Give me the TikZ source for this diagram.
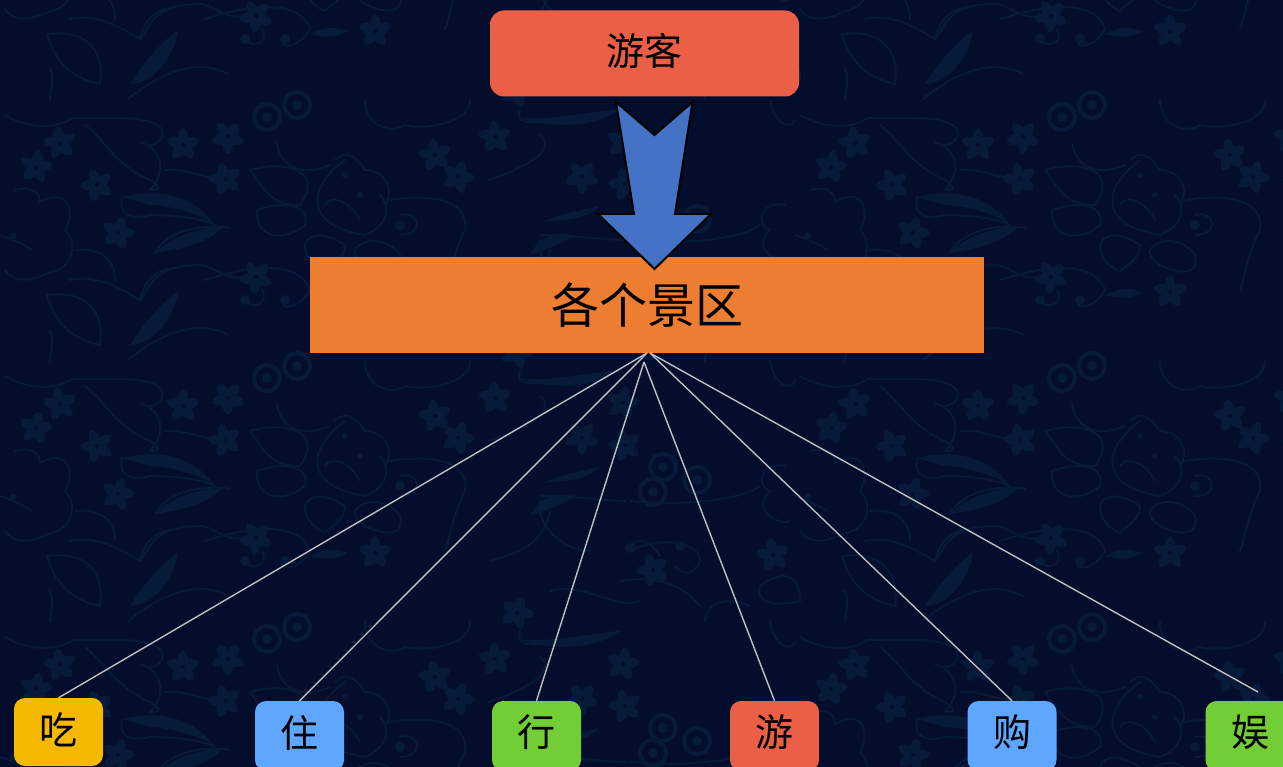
\documentclass[tikz,border=0pt]{standalone}
\usepackage{fontspec}
\setmainfont{Noto Sans CJK SC}
\definecolor{bgc}{HTML}{040E2C}
\definecolor{fl}{HTML}{071A39}
\definecolor{redc}{HTML}{EB5F47}
\definecolor{orc}{HTML}{ED7D31}
\definecolor{yelc}{HTML}{F6B900}
\definecolor{bluc}{HTML}{5EA6FF}
\definecolor{grnc}{HTML}{72CE34}
\definecolor{arrc}{HTML}{4472C4}
\definecolor{linec}{HTML}{BEC0C4}
\newcommand{\fleur}[3]{\path (#1,#2) pic[rotate=#3] {floret};}
\tikzset{
  x=1pt,y=-1pt,
  small/.style={draw=none,rounded corners=11pt,minimum width=89pt,minimum height=70pt,inner sep=0pt,text=black,font=\fontsize{38}{38}\selectfont},
  link/.style={draw=linec,line width=1.4pt},
  petal/.style={fill=fl,draw=none},
  vine/.style={draw=fl,line width=2pt,fill=none,line cap=round},
  floret/.pic={
    \foreach \a in {0,72,144,216,288}
      \fill[petal,rotate=\a] (0,0) .. controls (-8,-5) and (-6,-14) .. (0,-17) .. controls (6,-14) and (8,-5) .. (0,0);
    \fill[bgc] (0,0) circle (2.2);
  },
  ringed/.pic={
    \draw[draw=fl,line width=4pt] (0,0) circle (13);
    \fill[fl] (0,0) circle (5);
  },
  motif/.pic={
    \fleur{60}{143}{10} \fleur{36}{167}{-10} \fleur{97}{185}{20} \fleur{183}{145}{0}
    \fleur{228}{137}{35} \fleur{225}{179}{15} \fleur{118}{233}{-15} \fleur{256}{277}{30}
    \fleur{435}{155}{10} \fleur{458}{177}{-20} \fleur{375}{292}{0}
    \fleur{495}{137}{5} \fleur{582}{177}{36} \fleur{623}{142}{-10} \fleur{625}{184}{15}
    \fleur{653}{309}{20} \fleur{773}{294}{10} \fleur{517}{352}{-20}
    \path (267,117) pic {ringed}; \path (297,105) pic {ringed};
    \path (663,206) pic {ringed}; \path (653,231) pic {ringed}; \path (697,219) pic {ringed};
    % left group
    \draw[vine] (5,115) .. controls (30,130) and (60,128) .. (72,118);
    \draw[vine] (72,118) .. controls (110,118) and (155,115) .. (162,130) .. controls (165,140) and (155,145) .. (150,145);
    \draw[vine] (85,125) .. controls (105,140) and (115,165) .. (150,180) .. controls (165,190) and (155,190) .. (150,190) .. controls (165,175) and (165,150) .. (140,142);
    \draw[vine] (165,170) .. controls (185,168) and (200,178) .. (225,179);
    \draw[vine] (15,190) .. controls (35,185) and (40,195) .. (40,202) .. controls (70,185) and (75,215) .. (65,230) .. controls (80,245) and (70,270) .. (50,272) .. controls (35,280) and (15,285) .. (5,270);
    \draw[vine] (0,235) .. controls (15,240) and (25,245) .. (32,250);
    \fill[fl] (13,236) circle (3.5);
    \fill[fl] (122,197) .. controls (150,190) and (190,190) .. (215,225) .. controls (195,210) and (160,205) .. (150,205) -- cycle;
    \draw[vine] (122,197) .. controls (118,215) and (130,220) .. (150,215) .. controls (175,215) and (200,218) .. (215,225);
    \draw[vine] (155,253) .. controls (170,225) and (215,225) .. (230,228);
    \fill[fl] (155,253) .. controls (175,250) and (205,245) .. (222,228) .. controls (210,225) and (170,235) .. cycle;
    \draw[vine] (75,250) .. controls (95,248) and (115,255) .. (115,280);
    \draw[vine] (70,280) .. controls (95,275) and (115,285) .. (140,300) .. controls (145,280) and (155,270) .. (175,268);
    \draw[vine] (47,295) .. controls (85,290) and (105,310) .. (100,345) .. controls (75,340) and (55,325) .. (47,295);
    \draw[vine] (140,300) .. controls (150,290) and (150,265) .. (200,265) .. controls (215,265) and (235,290) .. (255,270);
    \draw[vine] (50,330) .. controls (55,340) and (50,355) .. (50,361);
    \fill[fl] (130,345) .. controls (145,320) and (170,295) .. (178,292) .. controls (175,315) and (155,345) .. (130,345);
    \draw[vine] (128,360) .. controls (165,330) and (200,320) .. (228,335);
    % centre group
    \draw[vine] (277,143) .. controls (280,165) and (300,178) .. (330,165);
    \draw[vine] (250,170) .. controls (285,160) and (325,170) .. (300,205) .. controls (270,205) and (265,190) .. (250,170);
    \draw[vine] (257,210) .. controls (285,200) and (310,205) .. (305,225) .. controls (280,245) and (255,235) .. (257,210);
    \draw[vine] (345,160) .. controls (310,185) and (300,225) .. (365,235) .. controls (390,225) and (390,205) .. (380,195);
    \draw[vine] (335,160) .. controls (345,150) and (355,155) .. (365,170) .. controls (385,170) and (395,190) .. (385,205);
    \draw[vine] (325,205) .. controls (330,195) and (350,200) .. (360,220);
    \fill[fl] (345,175) circle (3); \fill[fl] (360,195) circle (3);
    \draw[vine] (305,245) .. controls (310,230) and (330,235) .. (345,245) .. controls (345,260) and (330,265) .. (325,272) .. controls (310,265) and (305,255) .. (305,245);
    \draw[vine] (355,250) .. controls (365,235) and (390,240) .. (400,255) .. controls (405,275) and (385,275) .. (365,265) .. controls (355,258) and (355,255) .. (355,250);
    \draw[vine] (205,280) .. controls (250,265) and (300,260) .. (310,290) .. controls (300,310) and (275,310) .. (285,300);
    \draw[vine] (245,300) .. controls (250,310) and (270,305) .. (262,290);
    \fill[fl] (245,300) circle (5); \fill[fl] (285,300) circle (5);
    \draw[vine] (365,100) .. controls (365,125) and (390,135) .. (405,125) .. controls (420,130) and (470,125) .. (470,100);
    \draw[vine] (390,200) .. controls (420,195) and (470,195) .. (465,230) .. controls (450,260) and (450,280) .. (445,290);
    \draw[vine] (400,215) .. controls (420,210) and (425,235) .. (400,235);
    \fill[fl] (400,225) circle (5);
    \fill[fl] (310,295) .. controls (330,285) and (340,290) .. (348,292) .. controls (335,300) and (320,298) .. cycle;
    % right group
    \fill[fl] (520,118) .. controls (560,130) and (600,125) .. (620,109) .. controls (600,110) and (560,120) .. cycle;
    \draw[vine] (520,109) .. controls (515,125) and (530,122) .. (545,122);
    \draw[vine] (488,180) .. controls (520,170) and (560,150) .. (540,135);
    \fill[fl] (542,222) .. controls (570,210) and (590,210) .. (600,205) .. controls (590,220) and (560,220) .. cycle;
    \draw[vine] (540,235) .. controls (570,235) and (610,240) .. (625,240);
    \fill[fl] (530,255) .. controls (540,235) and (555,232) .. (575,235) .. controls (560,245) and (550,248) .. (530,255);
    \draw[vine] (540,240) .. controls (535,260) and (560,290) .. (590,290);
    \draw[vine] (490,300) .. controls (530,290) and (545,275) .. (550,250);
    \draw[vine] (630,240) .. controls (680,245) and (740,240) .. (760,225);
    \draw[vine] (785,205) .. controls (760,200) and (755,225) .. (770,230) .. controls (750,250) and (780,265) .. (790,260);
    \draw[vine] (630,290) .. controls (660,275) and (700,280) .. (700,300) .. controls (690,320) and (680,310) .. (675,305);
    \draw[vine] (630,285) .. controls (640,275) and (650,280) .. (660,295);
    \fill[fl] (630,287) circle (5); \fill[fl] (680,285) circle (5);
    \draw[vine] (550,330) .. controls (580,320) and (620,350) .. (640,340);
    \draw[vine] (620,320) .. controls (650,315) and (680,320) .. (700,345);
    \draw[vine] (760,325) .. controls (780,310) and (800,310) .. (800,340) .. controls (780,345) and (755,345) .. (760,325);
    \draw[vine] (705,361) .. controls (705,340) and (730,335) .. (750,345);
    \draw[vine] (770,100) .. controls (775,125) and (790,130) .. (795,120);
  },
}
\begin{document}
\begin{tikzpicture}
\useasboundingbox (0,0) rectangle (1283,767);
\clip (0,0) rectangle (1283,767);
\fill[bgc] (0,0) rectangle (1283,767);
% background floral texture (tile 795 x 261)
\foreach \cx in {0,795}
  \foreach \cy in {-261,0,261,522}
    \path (\cx,\cy) pic {motif};
% top box
\node[draw=none,fill=redc,rounded corners=14pt,minimum width=309pt,minimum height=86pt,inner sep=0pt,font=\fontsize{38}{38}\selectfont] (visitor) at (644.5,53.5) {\raisebox{8pt}{游客}};
% scenic area
\node[draw=none,fill=orc,minimum width=674pt,minimum height=96pt,inner sep=0pt,font=\fontsize{48}{48}\selectfont] (area) at (647,305) {\raisebox{3pt}{各个景区}};
% big arrow
\draw[fill=arrc,draw=black,line width=2pt,line join=miter]
  (616,102) -- (654.5,135) -- (692.5,102) -- (675,214) -- (711,214) -- (654.5,269) -- (598,214) -- (634,214) -- cycle;
% bottom nodes
\node[small,fill=yelc,minimum height=68pt] (chi) at (58.5,732) {\raisebox{7pt}{吃}};
\node[small,fill=bluc] (zhu) at (299.5,736) {\raisebox{10pt}{住}};
\node[small,fill=grnc] (xing) at (536.5,736) {\raisebox{10pt}{行}};
\node[small,fill=redc] (you) at (774.5,736) {\raisebox{10pt}{游}};
\node[small,fill=bluc] (gou) at (1012,736) {\raisebox{10pt}{购}};
\node[small,fill=grnc] (yu) at (1250,736) {\raisebox{10pt}{娱}};
% connectors
\coordinate (hubl) at (647,353);
\coordinate (hubm) at (644,362);
\coordinate (hubr) at (650,353);
\coordinate (yuend) at (1258,692);
\draw[link] (hubl) -- (chi.north);
\draw[link] (hubl) -- (zhu.north);
\draw[link] (hubm) -- (xing.north);
\draw[link] (hubm) -- (you.north);
\draw[link] (hubr) -- (gou.north);
\draw[link] (hubr) -- (yuend);
\end{tikzpicture}
\end{document}
